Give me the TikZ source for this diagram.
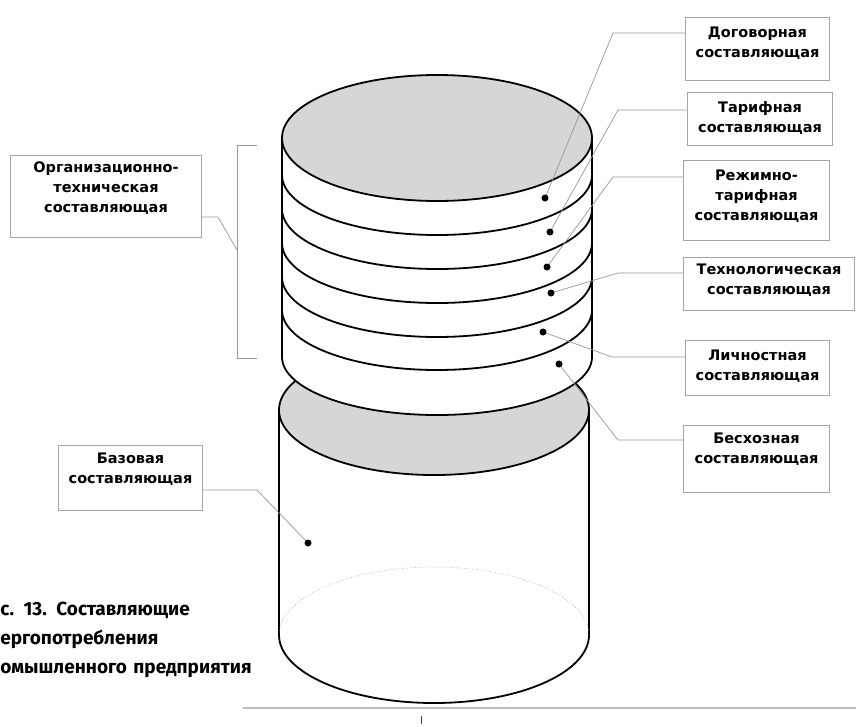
\documentclass[tikz,border=0pt]{standalone}
\usepackage{fontspec}
\usepackage{tikz}
\usetikzlibrary{calc}
\usetikzlibrary{positioning}
\newfontfamily\labfont{DejaVu Sans}
\newfontfamily\capfont{Fira Sans}
\definecolor{cylGray}{RGB}{214,214,214}
\definecolor{leadGray}{RGB}{150,150,150}
\definecolor{boxGray}{RGB}{165,165,165}
\definecolor{ruleGray}{RGB}{190,190,190}
\tikzset{every picture/.style={semithick}}

\begin{document}
\begin{tikzpicture}[x=1pt, y=-1pt,
        cyl/.style={line width=1.8pt, black},
        lead/.style={draw=leadGray, line width=0.7pt},
        dot/.style={circle, fill=black, inner sep=0pt, minimum size=7pt},
        box/.style={draw=boxGray, line width=0.8pt, fill=white, anchor=north west, align=center,
            inner xsep=2pt, inner ysep=0pt, font=\labfont\bfseries\fontsize{14.5}{20}\selectfont}]
    \useasboundingbox (0,0) rectangle (856,726);

    \draw[cyl, fill=cylGray] (434,410) ellipse [x radius=155pt, y radius=65pt];
    \draw[cyl] (279,410) -- (279,635) arc[start angle=180, end angle=360, x radius=155pt, y radius=68pt] -- (589,410);
    \draw[leadGray, dotted, line width=0.6pt] (589,635) arc[start angle=0, end angle=180, x radius=155pt, y radius=68pt];

    \draw[cyl, fill=white] (282,138) -- (282,357) arc[start angle=180, end angle=360, x radius=155pt, y radius=58pt] -- (592,138);
    \foreach \yc in {175,209,243,277,310}
        \draw[cyl] (282,\yc) arc[start angle=180, end angle=360, x radius=155pt, y radius=60pt];
    \draw[cyl, fill=cylGray] (437,138) ellipse [x radius=155pt, y radius=63pt];

    \node[box, text width=140.2pt, text height=20pt, text depth=43pt] (bDog) at (685,17) {Договорная\\составляющая};
    \node[box, text width=141.2pt, text height=20pt, text depth=33pt] (bTar) at (687,92) {Тарифная\\составляющая};
    \node[box, text width=142.2pt, text height=20pt, text depth=60pt] (bRez) at (683,160) {Режимно-\\тарифная\\составляющая};
    \node[box, text width=167.2pt, text height=17pt, text depth=36pt] (bTeh) at (683,257) {Технологическая\\составляющая};
    \node[box, text width=140.2pt, text height=20pt, text depth=35pt] (bLich) at (685,340) {Личностная\\составляющая};
    \node[box, text width=142.2pt, text height=18pt, text depth=49pt] (bBes) at (683,425) {Бесхозная\\составляющая};
    \node[box, text width=187.2pt, text height=17pt, text depth=65pt] (bOrg) at (10,155) {Организационно-\\техническая\\составляющая};
    \node[box, text width=140.2pt, text height=18pt, text depth=47pt] (bBaz) at (58,445) {Базовая\\составляющая};

    \draw[lead] ([yshift=-16pt]bDog.north west) -- ++(-72,0) -- (545,198) coordinate (pDog);
    \draw[lead] ([yshift=-18pt]bTar.north west) -- ++(-69,0) -- (550,232) coordinate (pTar);
    \draw[lead] ([yshift=-17pt]bRez.north west) -- ++(-70,0) -- (547,267) coordinate (pRez);
    \draw[lead] ([yshift=-16pt]bTeh.north west) -- ++(-65,0) -- (551,293) coordinate (pTeh);
    \draw[lead] ([yshift=-17pt]bLich.north west) -- ++(-73,0) -- (543,332) coordinate (pLich);
    \draw[lead] ([yshift=-15pt]bBes.north west) -- ++(-65,0) -- (559,364) coordinate (pBes);
    \draw[lead] ([yshift=-45pt]bBaz.north east) -- ++(54,0) -- (308,543) coordinate (pBaz);

    \foreach \p in {pDog,pTar,pRez,pTeh,pLich,pBes,pBaz}
        \node[dot] (d\p) at (\p) {};

    \coordinate (brTop) at (257,145);
    \coordinate (brBot) at (257,358);
    \coordinate (brMid) at (237,250);
    \draw[lead] (brTop) -- ++(-20,0) -- ++(0,213) -- (brBot);
    \draw[lead] ([yshift=-62pt]bOrg.north east) -- ++(16,0) -- (brMid);

    \node[anchor=base west, text width=320pt, align=left, inner sep=0pt,
        font=\capfont\bfseries\fontsize{19}{29}\selectfont] (capt) at (0,615)
        {с. 13. Составляющие\\ергопотребления\\омышленного предприятия};

    \coordinate (ruleL) at (243,708);
    \coordinate (ruleR) at (856,708);
    \coordinate (tickA) at (421,716);
    \coordinate (tickB) at (421,724);
    \draw[ruleGray, line width=1.5pt] (ruleL) -- (ruleR);
    \draw[black!70, line width=0.6pt] (tickA) -- (tickB);
\end{tikzpicture}
\end{document}
